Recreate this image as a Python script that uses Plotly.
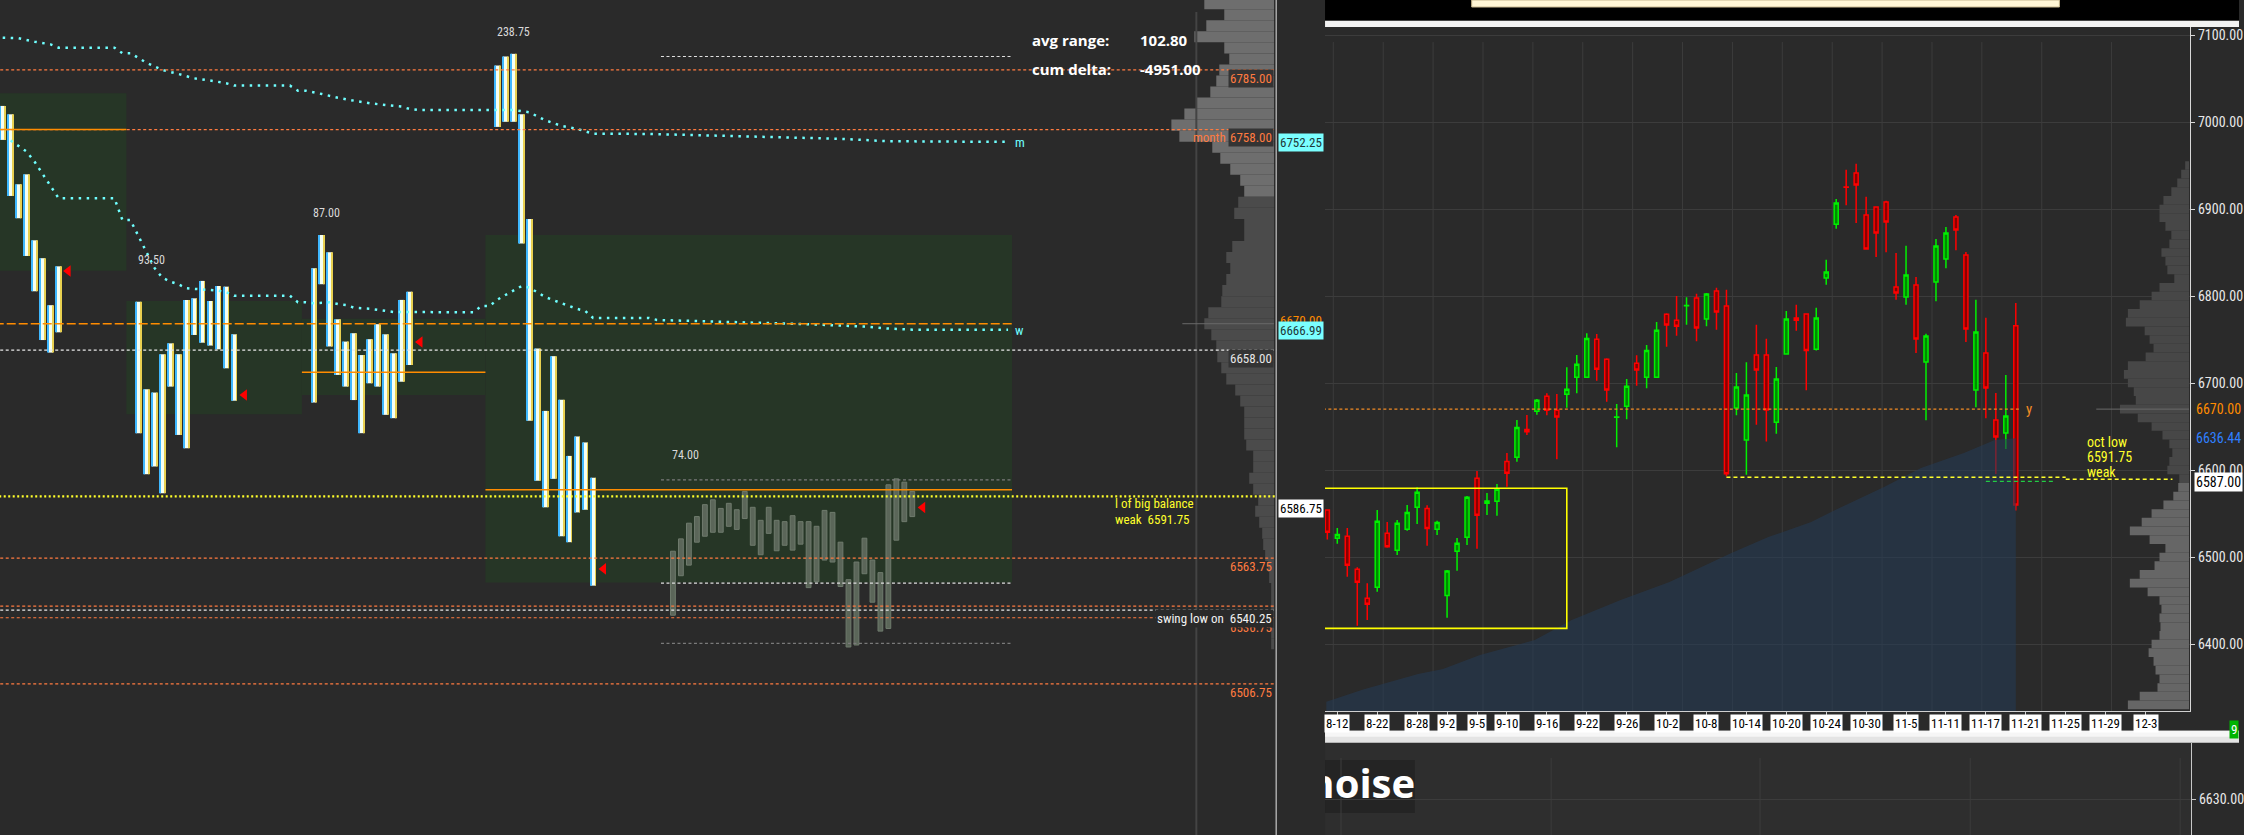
import plotly.graph_objects as go

W, H = 2244, 835
def px(x): return x / W
def py(y): return 1 - y / H

BG = '#2a2a2a'
NARROW = 'Liberation Sans Narrow, Roboto Condensed, Arial Narrow, Roboto, sans-serif'
BOLDF = 'Open Sans, Noto Sans, Roboto, sans-serif'
ORANGE = '#ff7b40'
DORANGE = '#ff8c00'
CYAN = '#6fffff'
YELLOW = '#ffff2a'

# ===================== LEFT PANEL DATA (TPO periods) =====================
tpo_slot = [0, 1, 2, 3, 4, 5, 6, 7,
            17, 18, 19, 20, 21, 22, 23, 24, 25, 26, 27, 28, 29,
            39, 40, 41, 42, 43, 44, 45, 46, 47, 48, 49, 50, 51,
            62, 63, 64, 65, 66, 67, 68, 69, 70, 71, 72, 73, 74]
tpo_low = [6753.3, 6727.9, 6717.8, 6700.7, 6684.7, 6662.6, 6656.9, 6666.1,
           6620.4, 6601.8, 6605.3, 6593.2, 6641.5, 6619.6, 6613.6, 6664.9, 6661.4, 6660.1, 6658.4, 6649.8, 6635.1,
           6634.3, 6687.9, 6659.7, 6646.8, 6641.5, 6635.4, 6620.4, 6643.0, 6641.5, 6628.7, 6627.2, 6643.7, 6651.3,
           6759.2, 6761.5, 6761.5, 6706.3, 6626.0, 6598.8, 6586.8, 6599.7, 6573.7, 6571.0, 6584.5, 6585.7, 6551.3]
tpo_high = [6768.7, 6764.9, 6733.2, 6737.7, 6707.8, 6699.7, 6678.4, 6696.0,
            6680.0, 6640.3, 6638.8, 6656.2, 6661.1, 6656.2, 6680.8, 6681.5, 6689.4, 6680.3, 6687.1, 6686.8, 6665.2,
            6695.1, 6710.2, 6702.4, 6672.0, 6661.9, 6665.7, 6655.8, 6663.0, 6669.8, 6665.2, 6656.6, 6680.8, 6684.5,
            6787.0, 6791.1, 6792.3, 6764.9, 6717.4, 6658.8, 6630.5, 6655.3, 6635.5, 6610.1, 6618.9, 6616.2, 6600.2]

dev_slot = list(range(84, 115))
dev_low = [6537.9, 6555.8, 6560.6, 6571.0, 6573.7, 6575.5, 6575.5, 6578.2, 6576.8, 6581.7,
           6569.6, 6565.3, 6575.0, 6567.1, 6569.6, 6567.4, 6570.1, 6550.4, 6553.1, 6562.9,
           6562.0, 6550.9, 6523.5, 6524.4, 6556.7, 6543.8, 6530.7, 6531.9, 6571.9, 6580.3, 6582.6]
dev_high = [6566.9, 6572.5, 6579.6, 6582.6, 6588.0, 6590.2, 6586.3, 6588.6, 6585.7, 6594.0,
            6586.8, 6580.9, 6586.8, 6580.9, 6580.3, 6583.0, 6580.3, 6580.3, 6578.2, 6585.4,
            6584.5, 6571.0, 6554.0, 6562.0, 6572.8, 6562.9, 6557.2, 6597.0, 6599.7, 6598.2, 6594.0]

va_first_slot = [-1, 16, 38, 61]
va_last_slot = [15, 37, 60, 126]
va_low = [6694.0, 6629.0, 6637.7, 6552.7]
va_high = [6774.4, 6680.3, 6672.2, 6710.2]

poc_first = [-1, 38, 61]
poc_last = [15, 60, 126]
poc_price = [6758.0, 6648.0, 6594.75]

close_slot = [8.2, 30.3, 52.3, 75.3, 115.3]
close_price = [6693.9, 6637.7, 6661.7, 6558.9, 6586.75]

range_slot = [18.6, 40.6, 64.0, 85.6]
range_price = [6699.0, 6720.1, 6802.4, 6610.4]
range_text = ['93.50', '87.00', '238.75', '74.00']

m_slot = [0, 2, 4, 6, 7, 14, 15, 16, 18, 20, 22, 24, 26, 28, 29, 36, 37, 38, 40, 42, 44, 46, 48, 50,
          51, 52, 64, 66, 68, 70, 72, 74, 81, 89, 96, 101, 105, 111, 126]
m_price = [6799.6, 6799.4, 6797.8, 6796.6, 6795.1, 6795.1, 6792.6, 6792.6, 6788.3, 6785.0, 6783.2,
           6781.2, 6780.2, 6779.0, 6777.9, 6777.9, 6775.6, 6775.6, 6774.1, 6772.4, 6771.1, 6769.9,
           6769.1, 6768.4, 6767.3, 6766.9, 6766.9, 6765.8, 6762.2, 6759.7, 6758.3, 6756.1, 6756.0,
           6755.2, 6754.7, 6754.3, 6753.8, 6752.7, 6752.4]
w_slot = [1, 2, 3, 4, 5, 6, 7, 14, 15, 16, 17, 18, 19, 20, 21, 22, 23, 24, 26, 27, 28, 29, 36, 37, 38,
          39, 41, 42, 43, 44, 46, 47, 48, 49, 59, 60, 61, 62, 63, 64, 65, 66, 67, 68, 69, 70, 71, 72,
          73, 74, 81, 82, 100, 106, 108, 111, 114, 126]
w_price = [6753.0, 6750.7, 6748.0, 6743.4, 6737.9, 6732.4, 6726.9, 6726.9, 6717.0, 6717.0, 6709.9,
           6702.5, 6695.4, 6690.9, 6689.1, 6687.9, 6686.1, 6685.8, 6685.3, 6685.0, 6684.3, 6682.7,
           6682.7, 6679.7, 6679.7, 6679.3, 6679.7, 6678.9, 6678.5, 6677.3, 6676.8, 6676.2, 6675.8,
           6675.3, 6675.2, 6678.0, 6678.0, 6680.9, 6683.0, 6685.2, 6687.0, 6686.4, 6684.3, 6682.1,
           6680.7, 6679.4, 6678.2, 6676.7, 6675.8, 6672.6, 6672.6, 6671.7, 6669.9, 6669.2, 6668.7,
           6667.8, 6667.3, 6667.3]

lvl_orange = [6785.00, 6758.00, 6563.75, 6542.00, 6536.75, 6506.75]
lvl_white = [6658.00, 6540.25]
lvl_yellow = 6591.75
lvl_long = 6670.00
cur_first, cur_last = 82.5, 126.5
cur_white = [6791.1, 6552.4]
cur_gray = [6599.2, 6525.1]

# left volume profile, 5-pt bins from 6815 downward
lp_width = [70, 50, 68, 80, 50, 45, 55, 58, 64, 78, 90, 103, 95, 62, 54, 44, 34, 30, 36, 40,
            30, 30, 42, 48, 44, 48, 52, 53, 66, 70, 63, 58, 57, 53, 48, 39, 34, 30, 30, 30,
            28, 21, 21, 25, 21, 16, 19, 15, 12, 11, 9, 6, 5, 3, 3, 3, 3, 3, 3]
lp_level = [6815 - 5 * i for i in range(len(lp_width))]
lp_poc = 6670.0

# ===================== RIGHT PANEL DATA (daily candles) =====================
cdl_open = [6554.0, 6521.5, 6523.8, 6485.8, 6452.5, 6465.1, 6527.2, 6507.7, 6531.8, 6557.1,
            6555.9, 6531.8, 6455.9, 6506.5, 6522.6, 6590.4, 6561.7, 6564.0, 6609.9, 6614.6,
            6646.7, 6667.4, 6684.7, 6668.6, 6687.0, 6706.5, 6706.5, 6750.2, 6727.2, 6660.5,
            6673.2, 6722.6, 6706.5, 6706.5, 6778.9, 6772.0, 6788.9, 6797.7, 6773.6, 6805.7,
            6788.5, 6671.3, 6634.5, 6732.2, 6732.2, 6654.8, 6733.3, 6774.7, 6779.3, 6738.7,
            6820.7, 6882.4, 6925.3, 6941.4, 6893.1, 6902.3, 6908.0, 6810.3, 6798.9, 6812.6,
            6724.1, 6816.1, 6842.5, 6890.8, 6847.1, 6691.9, 6734.5, 6657.5, 6642.5, 6765.9]
cdl_high = [6554.6, 6533.3, 6533.3, 6488.1, 6469.7, 6554.0, 6540.2, 6542.5, 6559.8, 6580.1,
            6559.4, 6541.8, 6485.1, 6521.8, 6570.1, 6598.9, 6573.6, 6583.9, 6619.5, 6657.5,
            6663.2, 6681.6, 6688.1, 6687.4, 6718.0, 6732.2, 6757.1, 6756.3, 6728.4, 6675.9,
            6704.6, 6731.8, 6743.7, 6770.1, 6780.1, 6800.0, 6798.5, 6802.7, 6803.4, 6809.6,
            6807.3, 6711.5, 6723.8, 6767.0, 6750.9, 6718.4, 6782.8, 6790.0, 6779.3, 6786.6,
            6841.8, 6911.5, 6945.2, 6952.1, 6914.2, 6902.3, 6909.6, 6849.4, 6857.9, 6821.8,
            6756.7, 6865.5, 6879.3, 6893.1, 6850.6, 6795.8, 6775.1, 6688.5, 6709.2, 6792.0]
cdl_low = [6520.0, 6515.3, 6477.4, 6421.0, 6427.6, 6460.2, 6510.7, 6502.3, 6530.3, 6537.9,
           6513.0, 6525.3, 6430.3, 6484.3, 6513.8, 6509.6, 6548.3, 6547.5, 6580.8, 6609.6,
           6640.2, 6663.6, 6662.8, 6612.3, 6671.6, 6688.1, 6706.5, 6702.7, 6678.5, 6626.1,
           6658.2, 6696.9, 6693.9, 6706.5, 6741.8, 6754.4, 6767.0, 6747.9, 6765.1, 6761.3,
           6592.7, 6662.8, 6594.6, 6652.1, 6632.9, 6641.8, 6733.3, 6760.2, 6691.6, 6737.5,
           6813.0, 6877.4, 6904.2, 6883.9, 6854.0, 6844.8, 6850.2, 6795.8, 6790.0, 6734.5,
           6657.1, 6793.9, 6831.8, 6852.5, 6747.1, 6672.0, 6659.4, 6595.4, 6624.1, 6553.6]
cdl_close = [6528.4, 6526.0, 6490.4, 6470.9, 6445.6, 6541.0, 6511.9, 6538.7, 6551.3, 6574.3,
             6532.9, 6539.8, 6483.9, 6515.7, 6568.6, 6547.9, 6564.4, 6577.8, 6596.2, 6649.0,
             6644.1, 6680.1, 6668.6, 6660.9, 6692.7, 6721.5, 6751.3, 6715.7, 6692.0, 6661.0,
             6696.2, 6714.9, 6737.5, 6760.5, 6766.7, 6765.1, 6789.2, 6763.2, 6802.3, 6781.6,
             6595.8, 6695.4, 6686.2, 6714.9, 6668.9, 6704.6, 6773.6, 6772.0, 6737.5, 6774.7,
             6827.6, 6906.9, 6924.9, 6927.6, 6854.0, 6872.4, 6885.1, 6803.4, 6824.1, 6750.6,
             6754.0, 6857.5, 6872.4, 6875.9, 6762.1, 6758.6, 6694.3, 6637.9, 6662.1, 6559.8]
cdl_idx = list(range(len(cdl_open)))

date_idx = [1, 5, 9, 12, 15, 18, 22, 26, 30, 34, 38, 42, 46, 50, 54, 58, 62, 66, 70, 74, 78, 82]
date_txt = ['8-12', '8-22', '8-28', '9-2', '9-5', '9-10', '9-16', '9-22', '9-26', '10-2', '10-8',
            '10-14', '10-20', '10-24', '10-30', '11-5', '11-11', '11-17', '11-21', '11-25', '11-29', '12-3']
grid_idx = [0.6, 5.6, 10.6, 15.6, 20.6, 25.6, 30.6, 35.6, 40.6, 45.6, 50.6, 55.6, 60.6, 65.6, 71.6, 78.6]
price_ticks = [6400, 6500, 6600, 6700, 6800, 6900, 7000, 7100]

vw_idx = [-0.1, 3.6, 9.1, 11.6, 15.3, 20.8, 24.5, 29.4, 34.3, 40.5, 44.2, 48.5, 50.9, 55.8, 59.5, 63.8, 66.9, 69.0]
vw_price = [6333.7, 6347.7, 6365.5, 6371.3, 6387.4, 6404.6, 6427.6, 6450.6, 6471.3, 6504.6, 6523.0,
            6540.2, 6554.0, 6580.5, 6602.3, 6619.5, 6634.5, 6636.44]

rp_width = [62, 50, 32, 30, 34, 36, 41, 38, 30, 29,
            30, 28, 30, 42, 60, 50, 35, 30, 24, 40,
            60, 48, 38, 26, 16, 11, 10, 22, 20, 17,
            20, 27, 38, 52, 70, 54, 56, 62, 66, 62,
            44, 36, 40, 45, 64, 62, 50, 38, 30, 15,
            22, 24, 28, 20, 18, 24, 30, 30, 26, 18,
            12, 8, 4]
rp_level = [6330 + 10 * i for i in range(len(rp_width))]
rp_poc = 6670.0

balance_box = dict(first=-3, last=24.0, low=6418.0, high=6579.0)
oct_low = 6591.75
oct_low_span = (40, 74)
oct_low2 = 6589.5
oct_low2_span = (74, 84.7)
green_lvl = 6587.0
green_span = (66, 72.8)
y_lvl = 6670.0
y_span = (-1, 69.5)

# ===================== FIGURE =====================
fig = go.Figure()
shapes = []
ann = []

def a(x, y, text, color, size=12, xanchor='center', family=NARROW, bg=None, xref='paper', yref='paper'):
    d = dict(x=x, y=y, xref=xref, yref=yref, text=text, showarrow=False, xanchor=xanchor,
             yanchor='middle', font=dict(color=color, size=size, family=family), borderpad=1)
    if bg:
        d['bgcolor'] = bg
    ann.append(d)

def hl(xref, yref, x0, x1, y, color, width, dash='solid', layer='above'):
    shapes.append(dict(type='line', xref=xref, yref=yref, x0=x0, x1=x1, y0=y, y1=y, layer=layer,
                       line=dict(color=color, width=width, dash=dash)))

def rect(x0, y0, x1, y1, fill, xref='paper', yref='paper', line=None, layer='below'):
    shapes.append(dict(type='rect', xref=xref, yref=yref, x0=x0, x1=x1, y0=y0, y1=y1, layer=layer,
                       fillcolor=fill, line=line or dict(width=0)))

# ---- paper backgrounds ----
rect(px(1328), py(20.7), px(2244), py(0), '#000000', layer='above')
rect(px(1475), py(7), px(2064), py(0), '#fff6d6', line=dict(color='#c8b890', width=1), layer='above')
rect(px(1328), py(27), px(2244), py(20.7), '#f2f2f2', layer='above')
rect(px(1328), py(742.7), px(2244), py(730.7), '#e4e4e4', layer='above')
rect(px(1328), py(736.7), px(2244), py(730.7), '#f6f6f6', layer='above')
rect(px(1328), py(835), px(2196), py(742.7), '#2e2e2e')
rect(px(1328), py(813), px(1418), py(760), '#242424')
for gx in [1344, 1554.6, 1764, 1974.6, 2185]:
    shapes.append(dict(type='line', xref='paper', yref='paper', x0=px(gx), x1=px(gx), y0=py(758), y1=0,
                       line=dict(color='#3c3c3c', width=1), layer='below'))
shapes.append(dict(type='line', xref='paper', yref='paper', x0=px(1279), x1=px(1279), y0=0, y1=1,
                   line=dict(color='#e6e6e6', width=1), layer='above'))
shapes.append(dict(type='line', xref='paper', yref='paper', x0=px(1199), x1=px(1199), y0=0, y1=py(12),
                   line=dict(color='#444444', width=2), layer='above'))

# ---- left value-area boxes ----
for f, l, lo, hi in zip(va_first_slot, va_last_slot, va_low, va_high):
    rect(f - 0.5, lo, l + 0.5, hi, '#263626', xref='x', yref='y')

# ---- left TPO columns (white body, cyan left edge, yellow right edge) ----
tpo_len = [h - l for h, l in zip(tpo_high, tpo_low)]
fig.add_trace(go.Bar(x=tpo_slot, y=tpo_len, base=tpo_low, width=0.6, offset=-0.3,
                     marker=dict(color='#f5fff2', line=dict(width=0)),
                     xaxis='x', yaxis='y', hoverinfo='skip'))
fig.add_trace(go.Bar(x=tpo_slot, y=tpo_len, base=tpo_low, width=0.13, offset=-0.36,
                     marker=dict(color='#3fb8ff', line=dict(width=0)),
                     xaxis='x', yaxis='y', hoverinfo='skip'))
fig.add_trace(go.Bar(x=tpo_slot, y=tpo_len, base=tpo_low, width=0.09, offset=0.26,
                     marker=dict(color='#e8d050', line=dict(width=0)),
                     xaxis='x', yaxis='y', hoverinfo='skip'))
dev_len = [h - l for h, l in zip(dev_high, dev_low)]
fig.add_trace(go.Bar(x=dev_slot, y=dev_len, base=dev_low, width=0.6, offset=-0.3,
                     marker=dict(color='#5b6659', line=dict(color='#6f7b6d', width=1)),
                     xaxis='x', yaxis='y', hoverinfo='skip'))

# ---- left levels ----
for p in lvl_orange:
    hl('x', 'y', -1, 160, p, ORANGE, 1.2, '3px,2.5px')
for p in lvl_white:
    hl('x', 'y', -1, 160, p, '#e8e8e8', 1.2, '3px,2.5px')
hl('x', 'y', -1, cur_last, lvl_long, DORANGE, 1.5, '9px,3px')
for p in cur_white:
    hl('x', 'y', cur_first, cur_last, p, '#e0e0e0', 1.2, '3px,2.5px')
for p in cur_gray:
    hl('x', 'y', cur_first, cur_last, p, '#7a7a7a', 1.2, '3px,2.5px')
for f, l, p in zip(poc_first, poc_last, poc_price):
    hl('x', 'y', f - 0.5, l + 0.5, p, DORANGE, 1.6)
hl('x', 'y', -1, 160, lvl_yellow, YELLOW, 2.2, '2px,2.5px')

# ---- left moving lines ----
fig.add_trace(go.Scatter(x=m_slot, y=m_price, mode='lines', xaxis='x', yaxis='y', hoverinfo='skip',
                         line=dict(color=CYAN, width=2.5, dash='2.5px,5.5px')))
fig.add_trace(go.Scatter(x=w_slot, y=w_price, mode='lines', xaxis='x', yaxis='y', hoverinfo='skip',
                         line=dict(color=CYAN, width=2.5, dash='2.5px,5.5px')))
fig.add_trace(go.Scatter(x=close_slot, y=close_price, mode='markers', xaxis='x', yaxis='y', hoverinfo='skip',
                         marker=dict(symbol='triangle-left', color='#ff0000', size=10)))
for s, p, t in zip(range_slot, range_price, range_text):
    a(s, p, t, '#dadada', 12, xref='x', yref='y')

# ---- left profile ----
fig.add_trace(go.Bar(orientation='h', x=lp_width, y=lp_level, width=5, xaxis='x2', yaxis='y', hoverinfo='skip',
                     marker=dict(color=['#6e6e6e' if v >= 6727 else '#4b4b4b' for v in lp_level], line=dict(width=0))))
hl('x2', 'y', 0, 92, lp_poc, '#6a6a6a', 1)

# ---- left texts ----
a(px(1277), py(78), '6785.00', ORANGE, 13, 'right', bg='#343434')
a(px(1277), py(137), '6758.00', ORANGE, 13, 'right', bg='#343434')
a(px(1212), py(137), 'month', ORANGE, 13)
a(px(1277), py(358), '6658.00', '#e6e6e6', 13, 'right', bg='#343434')
a(px(1277), py(566), '6563.75', ORANGE, 13, 'right')
a(px(1277), py(627), '6536.75', ORANGE, 13, 'right')
a(px(1277), py(618), 'swing low on&nbsp; 6540.25', '#f2f2f2', 13, 'right', bg=BG)
a(px(1277), py(692), '6506.75', ORANGE, 13, 'right')
a(px(1115), py(504), 'l of big balance', YELLOW, 13, 'left')
a(px(1115), py(519), 'weak&nbsp; 6591.75', YELLOW, 13, 'left')
a(px(1015), py(142), 'm', CYAN, 13, 'left')
a(px(1015), py(330), 'w', CYAN, 13, 'left')
a(px(1032), py(40), '<b>avg range:</b>', '#ffffff', 15, 'left', family=BOLDF)
a(px(1141), py(40), '<b>102.80</b>', '#ffffff', 15, 'left', family=BOLDF)
a(px(1032), py(69), '<b>cum delta:</b>', '#ffffff', 15, 'left', family=BOLDF)
a(px(1141), py(69), '<b>-4951.00</b>', '#ffffff', 15, 'left', family=BOLDF)
a(px(1304), py(142), '6752.25', '#1e3838', 13, bg='#7affff')
a(px(1304), py(321), '6670.00', DORANGE, 13)
a(px(1304), py(330), '6666.99', '#1e3838', 13, bg='#7affff')
a(px(1304), py(508), '6586.75', '#000000', 13, bg='#ffffff')

# ---- right chart ----
for g in grid_idx:
    shapes.append(dict(type='line', xref='x3', yref='y3 domain', x0=g, x1=g, y0=0, y1=0.978,
                       line=dict(color='#3c3c3c', width=1), layer='below'))
fig.add_trace(go.Scatter(x=vw_idx, y=vw_price, mode='lines', fill='tozeroy', xaxis='x3', yaxis='y3',
                         fillcolor='rgba(36,58,84,0.6)', line=dict(width=0, color='rgba(0,0,0,0)'),
                         hoverinfo='skip'))
fig.add_trace(go.Candlestick(x=cdl_idx, open=cdl_open, high=cdl_high, low=cdl_low, close=cdl_close,
                             xaxis='x3', yaxis='y3', whiskerwidth=0,
                             increasing=dict(line=dict(color='#00f000', width=1.5), fillcolor='#008a00'),
                             decreasing=dict(line=dict(color='#ff0000', width=1.5), fillcolor='#8a0000'),
                             hoverinfo='skip'))
rect(balance_box['first'], balance_box['low'], balance_box['last'], balance_box['high'], 'rgba(0,0,0,0)',
     xref='x3', yref='y3', line=dict(color='#ffff00', width=1.6), layer='above')
hl('x3', 'y3', y_span[0], y_span[1], y_lvl, '#f08a24', 1.3, '3px,2.5px')
hl('x3', 'y3', oct_low_span[0], oct_low_span[1], oct_low, YELLOW, 1.5, '4px,3px')
hl('x3', 'y3', oct_low2_span[0], oct_low2_span[1], oct_low2, YELLOW, 1.5, '4px,3px')
hl('x3', 'y3', green_span[0], green_span[1], green_lvl, '#22cc44', 1.3, '4px,3px')

fig.add_trace(go.Bar(orientation='h', x=rp_width, y=rp_level, width=10, xaxis='x4', yaxis='y3', hoverinfo='skip',
                     marker=dict(color=['#474747' if v >= 6585 else '#666666' for v in rp_level], line=dict(width=0))))
hl('x4', 'y3', 0, 94, rp_poc, '#6a6a6a', 1)

a(px(2090), py(442), 'oct low', YELLOW, 14, 'left')
a(px(2090), py(457), '6591.75', YELLOW, 14, 'left')
a(px(2090), py(472), 'weak', YELLOW, 14, 'left')
a(px(2029), py(409), 'y', '#f08a24', 15, 'left')
a(px(2199), py(409), '6670.00', DORANGE, 14, 'left')
a(px(2199), py(438), '6636.44', '#2f80ff', 14, 'left')
a(px(2199), py(482), '6587.00', '#000000', 14, 'left', bg='#ffffff')
for i, t in zip(date_idx, date_txt):
    a(i, py(723), t, '#000000', 13, xref='x3', bg='#ffffff')
a(px(2238.5), py(729), '9', '#ffffff', 13, bg='#00b400')

# ---- bottom panel ----
fig.add_trace(go.Scatter(x=[0.104], y=[6633.2], mode='text', text=['<b>noise</b>'], textposition='middle left',
                         textfont=dict(color='#ffffff', size=40, family=BOLDF), xaxis='x5', yaxis='y5',
                         hoverinfo='skip', cliponaxis=True))

fig.update_layout(
    width=W, height=H, margin=dict(l=0, r=0, t=0, b=0),
    paper_bgcolor=BG, plot_bgcolor='rgba(0,0,0,0)',
    showlegend=False, barmode='overlay', boxgap=0.42, hovermode=False,
    font=dict(family=NARROW, color='#e0e0e0'),
    shapes=shapes, annotations=ann,
    xaxis=dict(domain=[0, px(1279)], range=[-0.338, 159.6], visible=False, fixedrange=True),
    yaxis=dict(domain=[0, 1], range=[6438.3, 6816.7], visible=False, fixedrange=True),
    xaxis2=dict(domain=[px(1167), px(1277)], range=[110, 0], visible=False, anchor='y'),
    xaxis3=dict(domain=[px(1328), px(2195)], range=[-0.23, 86.47], anchor='y3', showgrid=False,
                zeroline=False, showline=True, linecolor='#d0d0d0', ticks='outside', ticklen=5,
                tickcolor='#d0d0d0', tickvals=date_idx, showticklabels=False,
                rangeslider=dict(visible=False)),
    yaxis3=dict(domain=[py(711), py(27)], range=[6323.0, 7109.2], anchor='x3', side='right',
                showgrid=True, gridcolor='#3c3c3c', zeroline=False, showline=True, linecolor='#d8d8d8',
                ticks='outside', ticklen=4, tickcolor='#d8d8d8', tickvals=price_ticks,
                ticktext=['%.2f' % v for v in price_ticks], tickfont=dict(color='#e8e8e8', size=14)),
    xaxis4=dict(domain=[px(2095), px(2194)], range=[100, 0], visible=False, anchor='y3'),
    xaxis5=dict(domain=[px(1328), px(2196)], range=[0, 1], visible=False, anchor='y5'),
    yaxis5=dict(domain=[0, py(742.7)], range=[6620, 6646.04], anchor='x5', side='right',
                showgrid=True, gridcolor='#3c3c3c', zeroline=False, showline=True, linecolor='#c8c8c8',
                ticks='outside', ticklen=4, tickcolor='#c8c8c8', tickvals=[6630], ticktext=['6630.00'],
                tickfont=dict(color='#e8e8e8', size=14)),
)

fig.write_html('out.html', config={'displayModeBar': False},
               post_script="document.body.style.margin='0';document.body.style.padding='0';"
                           "document.body.style.background='#2a2a2a';")
